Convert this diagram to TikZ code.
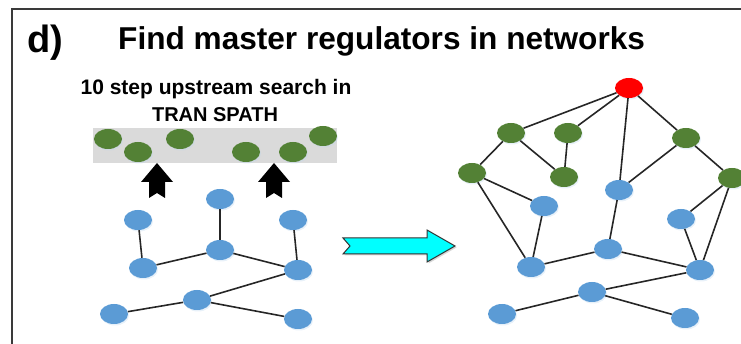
\documentclass[tikz,border=0pt]{standalone}
\usepackage{fontspec}
\setmainfont{Liberation Sans}
\usetikzlibrary{shapes.geometric,shadows}
\definecolor{nodeblue}{HTML}{5B9BD5}
\definecolor{nodegreen}{HTML}{538135}
\definecolor{framegray}{HTML}{3A3A3A}
\definecolor{bandgray}{HTML}{DADADA}
\definecolor{aqua}{RGB}{0,255,255}
\tikzset{
  blob/.style={ellipse, minimum width=28pt, minimum height=20pt, inner sep=0pt,
    drop shadow={shadow xshift=1pt, shadow yshift=-1.5pt, fill=nodeblue!40, opacity=0.35}},
  bnode/.style={blob, fill=nodeblue},
  gnode/.style={blob, fill=nodegreen},
  rnode/.style={blob, fill=red},
  link/.style={draw=black!85, line width=1.6pt},
  uparrow/.style={fill=black},
}
\begin{document}
\begin{tikzpicture}[x=1pt,y=-1pt]
\useasboundingbox (0,0) rectangle (741,344);

% panel frame
\draw[framegray, line width=1.6pt] (12,344) -- (12,9) -- (741,9);

% headings
\node[anchor=base west, inner sep=0pt, font=\fontsize{38}{40}\selectfont\bfseries] (label) at (27,53) {d)};
\node[anchor=base west, inner sep=0pt, font=\fontsize{31.6}{34}\selectfont\bfseries] (title) at (118,50) {Find master regulators in networks};
\node[anchor=base, inner sep=0pt, font=\fontsize{21}{23}\selectfont\bfseries] (sub1) at (216,95) {10 step upstream search in};
\node[anchor=base, inner sep=0pt, font=\fontsize{20}{22}\selectfont\bfseries] (sub2) at (215,122) {TRAN SPATH};

% database band with upstream regulators
\fill[bandgray] (93,128) rectangle (337,163);
\node[gnode] (u1) at (108,139) {};
\node[gnode] (u2) at (138,152) {};
\node[gnode] (u3) at (180,139) {};
\node[gnode] (u4) at (246,152) {};
\node[gnode] (u5) at (293,152) {};
\node[gnode] (u6) at (323,136) {};

% search arrows
\foreach \ax in {157,274}{
  \fill[uparrow] (\ax,163) -- ++(16,19) -- ++(-8,0) -- ++(0,16) -- ++(-8,-5)
    -- ++(-8,5) -- ++(0,-16) -- ++(-8,0) -- cycle;
}

% input network
\node[bnode] (a1) at (138,220) {};
\node[bnode] (a2) at (220,199) {};
\node[bnode] (a3) at (293,220) {};
\node[bnode] (a4) at (143,268) {};
\node[bnode] (a5) at (220,250) {};
\node[bnode] (a6) at (298,270) {};
\node[bnode] (a7) at (197,300) {};
\node[bnode] (a8) at (114,314) {};
\node[bnode] (a9) at (298,319) {};
\foreach \p/\q in {a1/a4, a2/a5, a3/a6, a4/a5, a5/a6, a6/a7, a7/a8, a7/a9}
  \draw[link] (\p) -- (\q);

% transition arrow
\filldraw[fill=aqua, draw=black!80, line width=1pt,
  drop shadow={shadow xshift=1.5pt, shadow yshift=-1.5pt, fill=black!30, opacity=0.5}]
  (343,238) -- (427,238) -- (427,230) -- (455,246) -- (427,262) -- (427,254)
  -- (343,254) -- (350,246) -- cycle;

% result network with master regulator
\node[rnode] (m)  at (629,88) {};
\node[gnode] (g1) at (511,133) {};
\node[gnode] (g2) at (568,133) {};
\node[gnode] (g3) at (686,138) {};
\node[gnode] (g4) at (472,173) {};
\node[gnode] (g5) at (564,177) {};
\node[gnode] (g6) at (732,178) {};
\node[bnode] (c1) at (619,190) {};
\node[bnode] (c2) at (544,206) {};
\node[bnode] (c3) at (681,219) {};
\node[bnode] (c4) at (531,267) {};
\node[bnode] (c5) at (608,249) {};
\node[bnode] (c6) at (700,270) {};
\node[bnode] (c7) at (592,292) {};
\node[bnode] (c8) at (502,314) {};
\node[bnode] (c9) at (685,318) {};
\foreach \p/\q in {m/g1, m/g2, m/c1, m/g3, g1/g4, g1/g5, g2/g5, g3/c1, g3/g6,
  g4/c2, g4/c4, c2/c4, c1/c5, c4/c5, c5/c6, g6/c3, g6/c6, c3/c6, c6/c7, c7/c8, c7/c9}
  \draw[link] (\p) -- (\q);
\end{tikzpicture}
\end{document}
